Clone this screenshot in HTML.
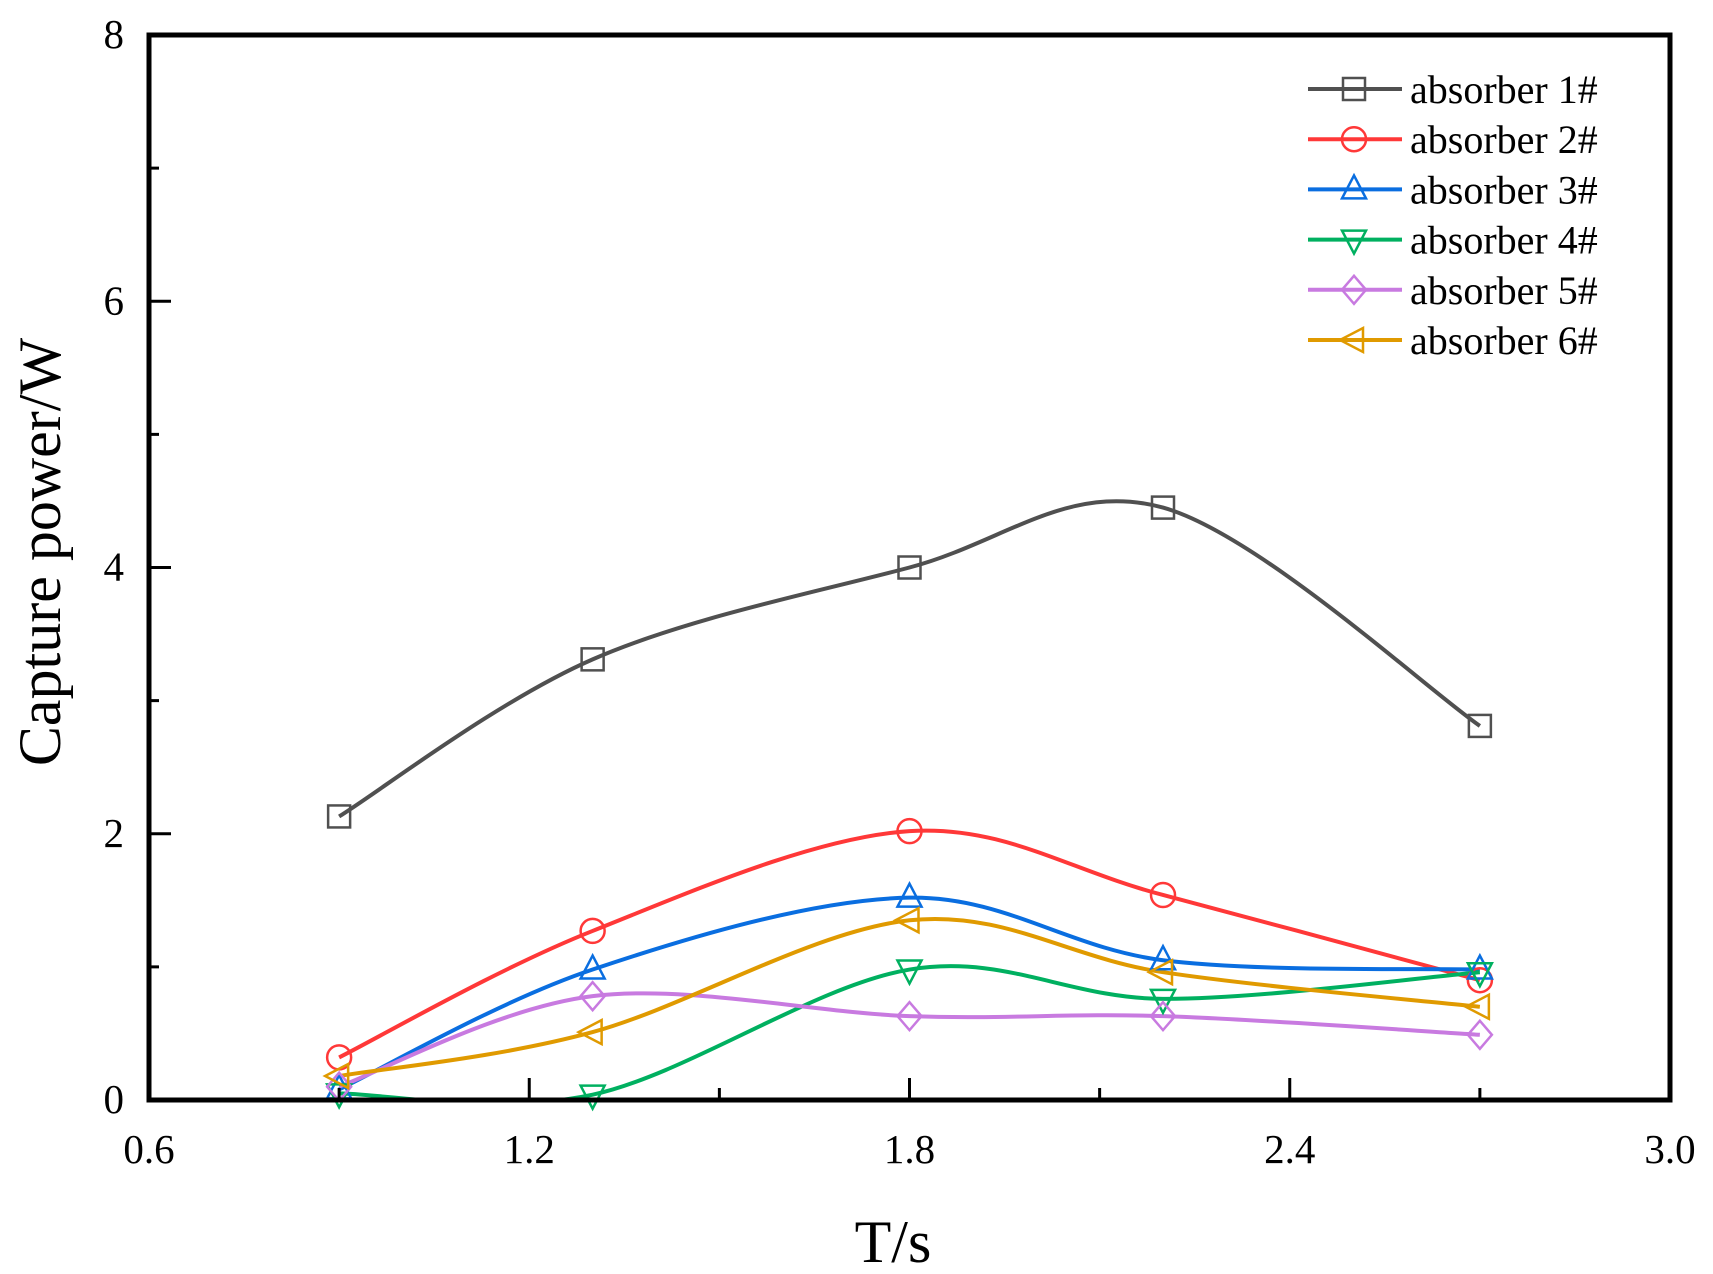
<!DOCTYPE html>
<html><head><meta charset="utf-8"><style>
html,body{margin:0;padding:0;background:#fff;}
svg{display:block;font-family:"Liberation Serif",serif;}
</style></head><body>
<svg id="chart" width="1713" height="1274" xmlns="http://www.w3.org/2000/svg">
<defs><clipPath id="plotclip"><rect x="149" y="35" width="1521" height="1065"/></clipPath></defs>
<g id="grid"></g>
<g id="series" clip-path="url(#plotclip)"></g>
<g id="markers"></g>
<rect x="149" y="35" width="1521" height="1065" fill="none" stroke="#000" stroke-width="5"/>
<g id="axes"></g>
<text transform="translate(60,552) rotate(-90)" text-anchor="middle" font-size="60">Capture power/W</text>
<text x="893" y="1262" text-anchor="middle" font-size="60">T/s</text>
<g id="legend"></g>
</svg>
<script>
const periods = [0.9, 1.3, 1.8, 2.2, 2.7];
const seriesNames = ["absorber 1#","absorber 2#","absorber 3#","absorber 4#","absorber 5#","absorber 6#"];
const absorber1 = [2.13, 3.31, 4.00, 4.45, 2.81];
const absorber2 = [0.32, 1.27, 2.02, 1.54, 0.90];
const absorber3 = [0.08, 0.98, 1.52, 1.05, 0.98];
const absorber4 = [0.05, 0.04, 0.98, 0.76, 0.96];
const absorber5 = [0.10, 0.78, 0.63, 0.63, 0.49];
const absorber6 = [0.18, 0.51, 1.35, 0.96, 0.70];
const xTicks = [0.6, 1.2, 1.8, 2.4, 3.0];
const xTickLabels = ["0.6","1.2","1.8","2.4","3.0"];
const xMinor = [0.9, 1.5, 2.1, 2.7];
const yTicks = [0, 2, 4, 6, 8];
const yTickLabels = ["0","2","4","6","8"];
const yMinor = [1, 3, 5, 7];

const allSeries = [absorber1, absorber2, absorber3, absorber4, absorber5, absorber6];
const colors = ["#505050","#ff3838","#0a6ee0","#00b060","#c87ae0","#e09a00"];
const shapes = ["square","circle","up","down","diamond","left"];
const L=149,R=1670,T=35,B=1100;
const X=v=>L+(v-0.6)/(3.0-0.6)*(R-L);
const Y=v=>B-(v/8)*(B-T);
const NS="http://www.w3.org/2000/svg";
function mk(tag,attrs,parent){const e=document.createElementNS(NS,tag);for(const k in attrs)e.setAttribute(k,attrs[k]);parent.appendChild(e);return e;}
const axes=document.getElementById('axes');
xTicks.forEach((v,i)=>{
  const t=mk('line',{x1:X(v),x2:X(v),y1:B,y2:B-22,stroke:'#000','stroke-width':3},axes);
  
  
  const lb=mk('text',{x:X(v),y:1163,'text-anchor':'middle','font-size':41},axes);
  lb.textContent=xTickLabels[i];
  
  
});
xMinor.forEach(v=>{
  const t=mk('line',{x1:X(v),x2:X(v),y1:B,y2:B-12,stroke:'#000','stroke-width':3},axes);
  
  
});
yTicks.forEach((v,i)=>{
  const t=mk('line',{x1:L,x2:L+22,y1:Y(v),y2:Y(v),stroke:'#000','stroke-width':3},axes);
  
  
  const lb=mk('text',{x:124,y:Y(v)+13,'text-anchor':'end','font-size':41},axes);
  lb.textContent=yTickLabels[i];
  
  
});
yMinor.forEach(v=>{
  const t=mk('line',{x1:L,x2:L+10,y1:Y(v),y2:Y(v),stroke:'#000','stroke-width':3},axes);
  
  
});
function spline(pts){
  let d=`M${pts[0][0]},${pts[0][1]}`;
  for(let i=0;i<pts.length-1;i++){
    const p0=pts[i-1]||pts[i],p1=pts[i],p2=pts[i+1],p3=pts[i+2]||pts[i+1];
    const c1=[p1[0]+(p2[0]-p0[0])/6,p1[1]+(p2[1]-p0[1])/6];
    const c2=[p2[0]-(p3[0]-p1[0])/6,p2[1]-(p3[1]-p1[1])/6];
    d+=` C${c1[0]},${c1[1]} ${c2[0]},${c2[1]} ${p2[0]},${p2[1]}`;
  }
  return d;
}
function marker(shape,x,y,c,parent){
  const s=12,a={fill:'none',stroke:c,'stroke-width':2.5};
  let e;
  if(shape==='square')e=mk('rect',Object.assign({x:x-s+1,y:y-s+1,width:2*s-2,height:2*s-2},a),parent);
  else if(shape==='circle')e=mk('circle',Object.assign({cx:x,cy:y,r:s},a),parent);
  else if(shape==='up')e=mk('polygon',Object.assign({points:`${x},${y-s-2} ${x-s},${y+s-3} ${x+s},${y+s-3}`},a),parent);
  else if(shape==='down')e=mk('polygon',Object.assign({points:`${x},${y+s+2} ${x-s},${y-s+3} ${x+s},${y-s+3}`},a),parent);
  else if(shape==='diamond')e=mk('polygon',Object.assign({points:`${x},${y-s-2} ${x+s},${y} ${x},${y+s+2} ${x-s},${y}`},a),parent);
  else e=mk('polygon',Object.assign({points:`${x-s-2},${y} ${x+s-3},${y-s} ${x+s-3},${y+s}`},a),parent);
  return e;
}
const sg=document.getElementById('series'),mg=document.getElementById('markers');
allSeries.forEach((vals,si)=>{
  const pts=vals.map((v,i)=>[X(periods[i]),Y(v)]);
  const p=mk('path',{d:spline(pts),fill:'none',stroke:colors[si],'stroke-width':4},sg);
  
  
});
allSeries.forEach((vals,si)=>{
  vals.forEach((v,i)=>{
    const m=marker(shapes[si],X(periods[i]),Y(v),colors[si],mg);
    
    
  });
});
const lg=document.getElementById('legend');


seriesNames.forEach((n,si)=>{
  const y=89+si*50.2;
  const g=mk('g',{},lg);
  
  
  mk('line',{x1:1308,x2:1402,y1:y,y2:y,stroke:colors[si],'stroke-width':4},g);
  marker(shapes[si],1354,y,colors[si],g);
  const t=mk('text',{x:1410,y:y+14,'font-size':40},g);
  t.textContent=n;
});
</script>
</body></html>
